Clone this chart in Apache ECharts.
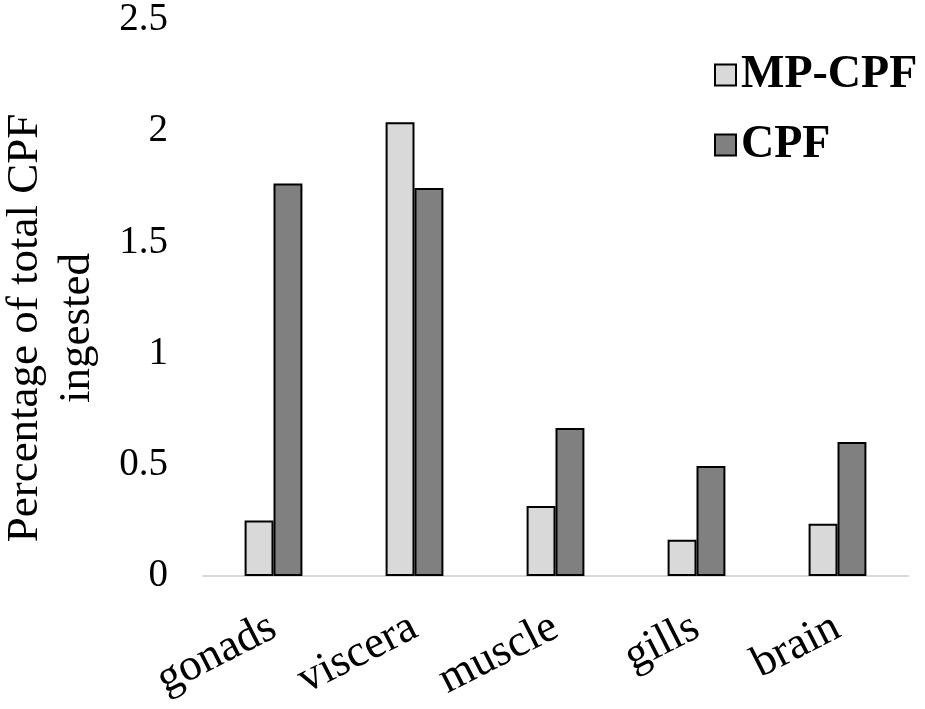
<!DOCTYPE html>
<html>
<head>
<meta charset="utf-8">
<script src="https://cdn.jsdelivr.net/npm/echarts@6/dist/echarts.min.js"></script>
<style>
  html, body { margin: 0; padding: 0; background: #fff; }
  #chart { width: 925px; height: 709px; }
</style>
</head>
<body>
<div id="chart"></div>
<script>
var categories = ['gonads', 'viscera', 'muscle', 'gills', 'brain'];
var mpCpf = [0.25, 2.04, 0.315, 0.163, 0.235];
var cpf = [1.765, 1.745, 0.665, 0.495, 0.602];
var yTicks = [0, 0.5, 1, 1.5, 2, 2.5];

var serif = 'Liberation Serif';
var chart = echarts.init(document.getElementById('chart'));

var option = {
    backgroundColor: '#fff',
    animation: false,
    grid: { left: 203, right: 17, top: 20, bottom: 133, outerBoundsMode: 'none', containLabel: false },
    legend: {
        orient: 'vertical',
        left: 709,
        top: 47,
        itemWidth: 21,
        itemHeight: 21,
        itemGap: 24,
        icon: 'rect',
        textStyle: { fontFamily: serif, fontWeight: 'bold', fontSize: 46, color: '#000' },
        data: ['MP-CPF', 'CPF']
    },
    xAxis: {
        type: 'category',
        data: categories,
        axisLine: { lineStyle: { color: '#d9d9d9', width: 2 } },
        axisTick: { show: false },
        axisLabel: {
            rotate: 27,
            margin: 49,
            fontFamily: serif,
            fontSize: 45,
            color: '#000'
        }
    },
    yAxis: {
        type: 'value',
        min: yTicks[0],
        max: yTicks[yTicks.length - 1],
        interval: 0.5,
        splitLine: { show: false },
        axisLine: { show: false },
        axisTick: { show: false },
        axisLabel: {
            margin: 35,
            fontFamily: serif,
            fontSize: 39,
            color: '#000'
        },
        name: 'Percentage of total CPF\ningested',
        nameLocation: 'middle',
        nameGap: 100,
        nameTextStyle: { fontFamily: serif, fontSize: 45, color: '#000', lineHeight: 52, padding: [0, 60, 0, 0] }
    },
    series: [
        {
            name: 'MP-CPF',
            type: 'bar',
            data: mpCpf,
            barWidth: '20.5%',
            barGap: '0%',
            itemStyle: { color: '#d9d9d9', borderColor: '#000', borderWidth: 2 }
        },
        {
            name: 'CPF',
            type: 'bar',
            data: cpf,
            barWidth: '20.5%',
            barGap: '0%',
            itemStyle: { color: '#808080', borderColor: '#000', borderWidth: 2 }
        }
    ]
};

chart.setOption(option);
</script>
</body>
</html>
